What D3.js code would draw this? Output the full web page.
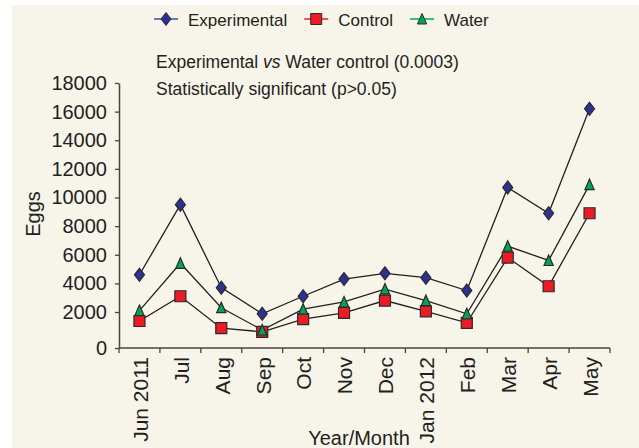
<!DOCTYPE html>
<html>
<head>
<meta charset="utf-8">
<script src="https://cdn.jsdelivr.net/npm/d3@7"></script>
<style>
  body { margin: 0; background: #fff; }
  svg text { font-family: "Liberation Sans", Arial, sans-serif; fill: #231f20; }
</style>
</head>
<body>
<div id="chart"></div>
<script>
// data
var months = ['Jun 2011', 'Jul', 'Aug', 'Sep', 'Oct', 'Nov', 'Dec', 'Jan 2012', 'Feb', 'Mar', 'Apr', 'May'];
var experimental = [4600, 9500, 3700, 1900, 3100, 4300, 4700, 4400, 3500, 10700, 8900, 16200];
var control = [1500, 3100, 1100, 900, 1600, 1950, 2800, 2050, 1400, 5800, 3800, 8900];
var water = [2100, 5400, 2300, 1000, 2200, 2700, 3600, 2800, 1900, 6600, 5600, 10900];
var yTicks = [0, 2000, 4000, 6000, 8000, 10000, 12000, 14000, 16000, 18000];
var seriesNames = ['Experimental', 'Control', 'Water'];

var width = 639, height = 448;

// custom marker shapes (taller diamond / triangle like the original)
var shapes = {
  diamond: { draw: function (c) { c.moveTo(0, -6.5); c.lineTo(5, 0); c.lineTo(0, 6.5); c.lineTo(-5, 0); c.closePath(); } },
  square: { draw: function (c) { c.rect(-5.5, -5.5, 11, 11); } },
  triangle: { draw: function (c) { c.moveTo(0, -5.5); c.lineTo(4.6, 5); c.lineTo(-4.6, 5); c.closePath(); } }
};

var series = [
  { name: seriesNames[0], values: experimental, shape: 'diamond', fill: '#2e3192', legendLine: '#3c4fb0' },
  { name: seriesNames[1], values: control, shape: 'square', fill: '#ed1c24', legendLine: '#ed1c24' },
  { name: seriesNames[2], values: water, shape: 'triangle', fill: '#00a651', legendLine: '#00a651' }
];

var svg = d3.select('#chart').append('svg')
    .attr('width', width)
    .attr('height', height);

svg.append('rect')
    .attr('x', 12).attr('y', 5)
    .attr('width', width - 12).attr('height', height - 5)
    .attr('fill', '#f7f4ea');

var x = d3.scaleBand().domain(months).range([119, 610]).padding(0);
// the original axis gives the 0-2000 step more room than the others
var y = d3.scaleLinear().domain([0, 2000, 18000]).range([348, 312, 83]);

// y axis
var yAxis = svg.append('g')
    .attr('transform', 'translate(119,0)')
    .call(d3.axisLeft(y).tickValues(yTicks).tickSize(4).tickSizeOuter(0).tickPadding(8).tickFormat(d3.format('d')));
yAxis.select('.domain').attr('stroke', '#444').attr('stroke-width', 1.5);
yAxis.selectAll('.tick line').attr('stroke', '#444').attr('stroke-width', 1.3);
yAxis.selectAll('.tick text').attr('font-size', 20).attr('fill', '#231f20');

// x axis line and ticks between the months
var xAxis = svg.append('g').attr('transform', 'translate(0,348)');
xAxis.append('line')
    .attr('x1', x.range()[0]).attr('x2', x.range()[1])
    .attr('stroke', '#444').attr('stroke-width', 1.5);
xAxis.selectAll('line.tick')
    .data(months.concat(['end']))
    .enter()
    .append('line')
    .classed('tick', true)
    .attr('x1', function (d) { return d === 'end' ? x.range()[1] : x(d); })
    .attr('x2', function (d) { return d === 'end' ? x.range()[1] : x(d); })
    .attr('y1', 0).attr('y2', 5)
    .attr('stroke', '#444').attr('stroke-width', 1.3);
xAxis.selectAll('text')
    .data(months)
    .enter()
    .append('text')
    .attr('transform', function (d) {
      return 'translate(' + (x(d) + x.bandwidth() / 2 + 1) + ',9) rotate(-90)';
    })
    .attr('text-anchor', 'end')
    .attr('dy', '0.35em')
    .attr('font-size', 21)
    .text(function (d) { return d; });

// axis titles
svg.append('text')
    .attr('transform', 'translate(40,214) rotate(-90)')
    .attr('text-anchor', 'middle')
    .attr('font-size', 20)
    .text('Eggs');
svg.append('text')
    .attr('x', 359).attr('y', 445)
    .attr('text-anchor', 'middle')
    .attr('font-size', 20)
    .text('Year/Month');

// lines
var line = d3.line()
    .x(function (d, i) { return x(months[i]) + x.bandwidth() / 2; })
    .y(function (d) { return y(d); });

svg.append('g').selectAll('path')
    .data(series)
    .enter()
    .append('path')
    .attr('d', function (s) { return line(s.values); })
    .attr('fill', 'none')
    .attr('stroke', '#231f20')
    .attr('stroke-width', 1.3);

// markers
var markerGroups = svg.append('g').selectAll('g')
    .data(series)
    .enter()
    .append('g');
markerGroups.selectAll('path')
    .data(function (s) { return s.values.map(function (v, i) { return { s: s, v: v, i: i }; }); })
    .enter()
    .append('path')
    .attr('transform', function (d) {
      return 'translate(' + (x(months[d.i]) + x.bandwidth() / 2) + ',' + y(d.v) + ')';
    })
    .attr('d', function (d) { return d3.symbol().type(shapes[d.s.shape])(); })
    .attr('fill', function (d) { return d.s.fill; })
    .attr('stroke', '#2a2a2a')
    .attr('stroke-width', 1.2);

// legend
var legend = svg.append('g').attr('transform', 'translate(0,19)');
var lx = 154;
series.forEach(function (s) {
  var g = legend.append('g').attr('transform', 'translate(' + lx + ',0)');
  g.append('line')
      .attr('x1', 0).attr('x2', 24)
      .attr('stroke', s.legendLine).attr('stroke-width', 1.5);
  g.append('path')
      .attr('transform', 'translate(12,0)')
      .attr('d', d3.symbol().type(shapes[s.shape])())
      .attr('fill', s.fill)
      .attr('stroke', '#2a2a2a')
      .attr('stroke-width', 1);
  var t = g.append('text')
      .attr('x', 34).attr('y', 7)
      .attr('font-size', 17)
      .text(s.name);
  lx += 34 + t.node().getComputedTextLength() + 17;
});

// annotation
var note = svg.append('g');
var first = note.append('text')
    .attr('x', 156).attr('y', 68)
    .attr('font-size', 17.5);
first.append('tspan').text('Experimental ');
first.append('tspan').attr('font-style', 'italic').text('vs');
first.append('tspan').text(' Water control (0.0003)');
note.append('text')
    .attr('x', 156).attr('y', 95)
    .attr('font-size', 17.5)
    .text('Statistically significant (p>0.05)');
</script>
</body>
</html>
